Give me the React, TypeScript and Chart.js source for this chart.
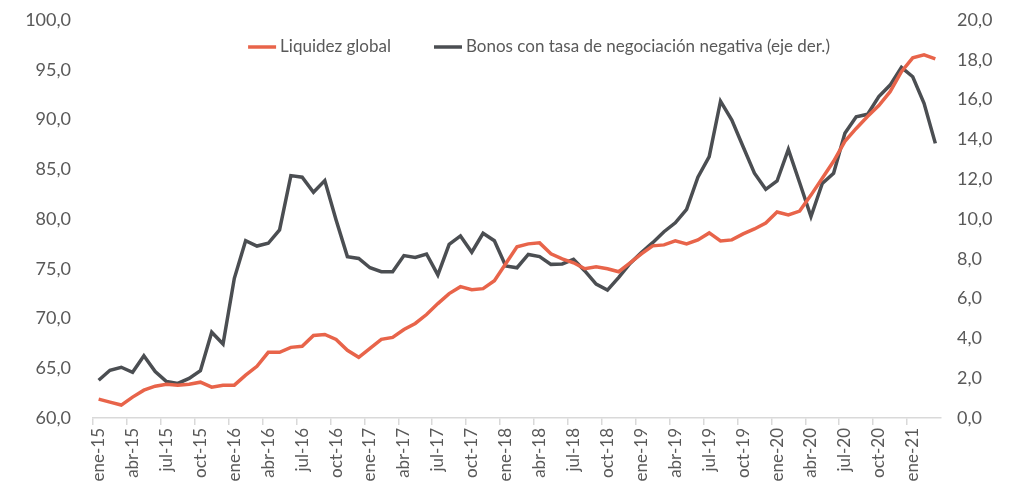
import React, { useEffect, useRef } from "react";
import { Chart, registerables } from "chart.js";

Chart.register(...registerables);

const months = ["ene", "feb", "mar", "abr", "may", "jun", "jul", "ago", "sep", "oct", "nov", "dic"];
const years = ["15", "16", "17", "18", "19", "20", "21"];
const categories: string[] = [];
for (const y of years) for (const m of months) categories.push(`${m}-${y}`);
const labels = categories.slice(0, 75); // ene-15 .. mar-21

const liquidezGlobal = [
  61.9, 61.6, 61.3, 62.1, 62.8, 63.2, 63.4, 63.3, 63.4, 63.6, 63.1, 63.3,
  63.3, 64.3, 65.2, 66.6, 66.6, 67.1, 67.2, 68.3, 68.4, 67.9, 66.8, 66.1,
  67.0, 67.9, 68.1, 68.9, 69.5, 70.4, 71.5, 72.5, 73.2, 72.9, 73.0, 73.8,
  75.5, 77.2, 77.5, 77.6, 76.5, 76.0, 75.6, 75.0, 75.2, 75.0, 74.7, 75.6,
  76.5, 77.3, 77.4, 77.8, 77.5, 77.9, 78.6, 77.8, 77.9, 78.5, 79.0, 79.6,
  80.7, 80.4, 80.8, 82.4, 84.1, 85.8, 87.8, 89.1, 90.3, 91.4, 92.8, 94.8,
  96.2, 96.5, 96.1,
];

const bonosNegativos = [
  1.9, 2.4, 2.55, 2.3, 3.13, 2.33, 1.83, 1.74, 1.99, 2.38, 4.31, 3.72,
  7.02, 8.91, 8.64, 8.78, 9.45, 12.18, 12.1, 11.34, 11.93, 9.95, 8.11, 8.02,
  7.55, 7.35, 7.35, 8.16, 8.07, 8.24, 7.19, 8.73, 9.15, 8.33, 9.28, 8.91,
  7.64, 7.55, 8.22, 8.11, 7.72, 7.74, 7.97, 7.39, 6.73, 6.43, 7.07, 7.77,
  8.31, 8.81, 9.36, 9.81, 10.49, 12.1, 13.13, 15.92, 14.97, 13.63, 12.3, 11.49,
  11.91, 13.5, 11.82, 10.12, 11.79, 12.3, 14.31, 15.14, 15.26, 16.15, 16.73, 17.62,
  17.15, 15.81, 13.8,
];

const FONT = "Lato, 'Open Sans', sans-serif";
const TEXT = "#595959";
const ORANGE = "#E8644A";
const DARK = "#4B4E52";
const AXIS = "#D9D9D9";

const fmt = (v: number | string) => Number(v).toFixed(1).replace(".", ",");

const inlineLegend = {
  id: "inlineLegend",
  afterDraw(chart: any) {
    const { ctx, chartArea } = chart;
    const boxW = 28;
    const gap = 4;
    const itemGap = 43;
    ctx.save();
    ctx.font = `17px ${FONT}`;
    const items = chart.data.datasets.map((d: any) => ({
      text: d.label,
      color: d.borderColor,
      w: boxW + gap + ctx.measureText(d.label).width,
    }));
    const total = items.reduce((s: number, it: any) => s + it.w, 0) + itemGap * (items.length - 1);
    let x = (chartArea.left + chartArea.right) / 2 + 22 - total / 2;
    const y = chartArea.top + 27;
    for (const it of items) {
      ctx.strokeStyle = it.color;
      ctx.lineWidth = 3.5;
      ctx.beginPath();
      ctx.moveTo(x, y);
      ctx.lineTo(x + boxW, y);
      ctx.stroke();
      ctx.fillStyle = TEXT;
      ctx.textBaseline = "middle";
      ctx.textAlign = "left";
      ctx.fillText(it.text, x + boxW + gap, y);
      x += it.w + itemGap;
    }
    ctx.restore();
  },
};

export default function App() {
  const ref = useRef<HTMLCanvasElement | null>(null);
  useEffect(() => {
    if (!ref.current) return;
    const chart = new Chart(ref.current, {
      type: "line",
      data: {
        labels,
        datasets: [
          {
            label: "Liquidez global",
            data: liquidezGlobal,
            borderColor: ORANGE,
            backgroundColor: ORANGE,
            borderWidth: 3.5,
            pointRadius: 0,
            tension: 0,
            yAxisID: "y",
          },
          {
            label: "Bonos con tasa de negociación negativa (eje der.)",
            data: bonosNegativos,
            borderColor: DARK,
            backgroundColor: DARK,
            borderWidth: 3.5,
            pointRadius: 0,
            tension: 0,
            yAxisID: "y2",
          },
        ],
      },
      options: {
        animation: false,
        responsive: true,
        maintainAspectRatio: false,
        layout: { padding: { top: 20, left: 0, right: 0, bottom: 0 } },
        plugins: {
          tooltip: { enabled: false },
          legend: { display: false },
        },
        scales: {
          x: {
            offset: true,
            border: { display: true, color: AXIS, width: 1.5 },
            grid: {
              offset: true,
              drawOnChartArea: false,
              drawTicks: true,
              tickLength: 7,
              lineWidth: 1.5,
              color: (ctx: any) => (ctx.index % 3 === 0 ? AXIS : "rgba(0,0,0,0)"),
            },
            ticks: {
              autoSkip: false,
              maxRotation: 90,
              minRotation: 90,
              padding: 3,
              color: TEXT,
              font: { family: FONT, size: 17 },
              callback: (_v: any, i: number) => (i % 3 === 0 ? labels[i] : ""),
            },
            afterFit: (s: any) => {
              s.height = 71;
              s.paddingLeft = 0;
              s.paddingRight = 0;
            },
          },
          y: {
            position: "left",
            min: 60,
            max: 100,
            border: { display: false },
            grid: { display: false },
            ticks: {
              stepSize: 5,
              padding: 14,
              color: TEXT,
              font: { family: FONT, size: 18 },
              callback: (v: any) => fmt(v),
            },
            afterFit: (s: any) => {
              s.width = 93;
              s.paddingTop = 0;
              s.paddingBottom = 0;
            },
          },
          y2: {
            position: "right",
            min: 0,
            max: 20,
            border: { display: false },
            grid: { display: false },
            ticks: {
              stepSize: 2,
              padding: 8,
              color: TEXT,
              font: { family: FONT, size: 18 },
              callback: (v: any) => fmt(v),
            },
            afterFit: (s: any) => {
              s.width = 74;
              s.paddingTop = 0;
              s.paddingBottom = 0;
            },
          },
        },
      },
      plugins: [inlineLegend],
    } as any);
    return () => chart.destroy();
  }, []);
  return (
    <div style={{ position: "fixed", left: 0, top: 0, width: 1015, height: 489, background: "#fff" }}>
      <canvas ref={ref} />
    </div>
  );
}
